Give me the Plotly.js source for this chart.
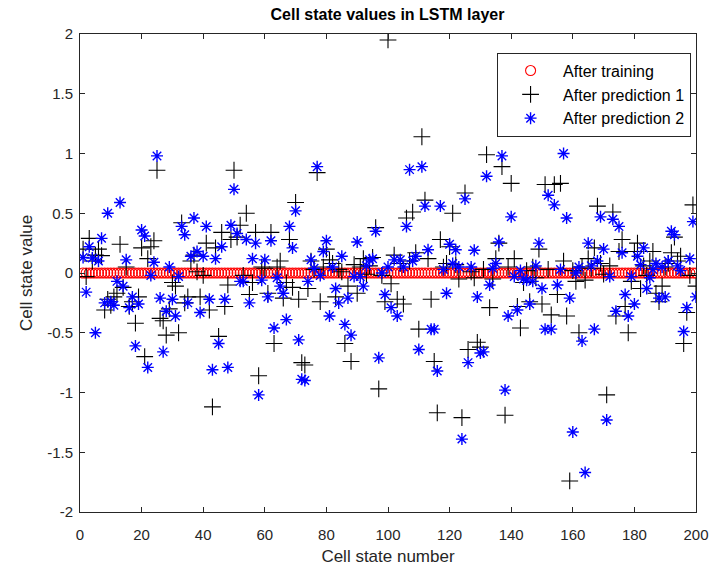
<!DOCTYPE html>
<html>
<head>
<meta charset="utf-8">
<script src="https://cdn.plot.ly/plotly-3.0.1.min.js"></script>
<style>html,body{margin:0;padding:0;background:#fff;}#chart{width:711px;height:579px;}</style>
</head>
<body>
<div id="chart"></div>
<script>
// Cell state index 1..200
const cellIndex = Array.from({length: 200}, (_, i) => i + 1);

// After training: all cell states at zero
const afterTraining = [
0,0,0,0,0,0,0,0,0,0, 0,0,0,0,0,0,0,0,0,0, 0,0,0,0,0,0,0,0,0,0, 0,0,0,0,0,0,0,0,0,0,
0,0,0,0,0,0,0,0,0,0, 0,0,0,0,0,0,0,0,0,0, 0,0,0,0,0,0,0,0,0,0, 0,0,0,0,0,0,0,0,0,0,
0,0,0,0,0,0,0,0,0,0, 0,0,0,0,0,0,0,0,0,0, 0,0,0,0,0,0,0,0,0,0, 0,0,0,0,0,0,0,0,0,0,
0,0,0,0,0,0,0,0,0,0, 0,0,0,0,0,0,0,0,0,0, 0,0,0,0,0,0,0,0,0,0, 0,0,0,0,0,0,0,0,0,0,
0,0,0,0,0,0,0,0,0,0, 0,0,0,0,0,0,0,0,0,0, 0,0,0,0,0,0,0,0,0,0, 0,0,0,0,0,0,0,0,0,0
];

// After prediction 1 (black +)
const afterPrediction1 = [
 0.20,-0.03, 0.29, 0.10, 0.15, 0.20, 0.145,-0.31,-0.22,-0.27,
-0.20,-0.17, 0.24,-0.12, 0.05,-0.28,-0.24,-0.42,-0.20, 0.21,
-0.70, 0.12, 0.22, 0.27, 0.86,-0.38,-0.40,-0.52,-0.30,-0.08,
-0.11,-0.50, 0.42,-0.25,-0.20, 0.10, 0.15, 0.01,-0.20,-0.02,
 0.25,-0.31,-1.12, 0.21,-0.53, 0.34,-0.28,-0.10, 0.28, 0.86,
 0.30, 0.40,-0.02, 0.50,-0.18,-0.08, 0.34,-0.86, 0.05, 0.04,
-0.17, 0.34,-0.59, 0.05, 0.10,-0.21,-0.08, 0.28,-0.12, 0.59,
-0.22,-0.75,-0.77,-0.13, 0.10, 0.03, 0.84,-0.24, 0.05, 0.20,
 0.11, 0.08,-0.20, 0.03, 0.01,-0.59,-0.11,-0.74, 0.07,-0.17,
 0.05, 0.12,-0.01, 0.06, 0.13, 0.38,-0.97,-0.02,-0.24, 1.95,
-0.09, 0.15,-0.22, 0.08,-0.26, 0.46, 0.10, 0.51, 0.17,-0.47,
 1.14, 0.61, 0.12,-0.22,-0.74,-1.17, 0.28, 0.05, 0.08, 0.22,
 0.50, 0.07,-0.05,-1.21, 0.67,-0.64, 0.01,-0.04,-0.58,-0.62,
 0.03, 0.99,-0.29,-0.05, 0.12, 0.25, 0.89,-1.19, 0.05, 0.75,
 0.12,-0.28,-0.46,-0.08, 0.02,-0.24, 0.05,-0.04, 0.20,-0.26,
 0.74, 0.03,-0.35, 0.74,-0.18, 0.75, 0.10,-0.36,-1.74, 0.02,
-0.07,-0.50, 0.05,-0.06, 0.12, 0.04, 0.21, 0.56, 0.08,-0.01,
-1.02, 0.06, 0.51,-0.36, 0.18, 0.28,-0.28,-0.50,-0.07, 0.18,
 0.25,-0.13, 0.06,-0.02, 0.10, 0.18,-0.17,-0.24,-0.11, 0.05,
 0.08, 0.17, 0.30, 0.10, 0.14,-0.59,-0.33,-0.02, 0.57,-0.11
];

// After prediction 2 (blue *)
const afterPrediction2 = [
 0.13,-0.16, 0.22, 0.125,-0.50, 0.10, 0.29,-0.25, 0.50,-0.24,
-0.27,-0.07, 0.59,-0.11, 0.11,-0.29,-0.20,-0.61,-0.26, 0.36,
 0.31,-0.79,-0.02, 0.09, 0.98,-0.21,-0.66,-0.32, 0.05,-0.22,
-0.36,-0.03, 0.39, 0.32,-0.25, 0.14, 0.46, 0.18,-0.33, 0.14,
 0.39,-0.22,-0.81, 0.12,-0.59, 0.22,-0.22,-0.79, 0.40, 0.70,
 0.33,-0.07,-0.07, 0.28,-0.25, 0.12, 0.25,-1.02,-0.06, 0.11,
-0.20, 0.27,-0.46,-0.04,-0.11,-0.17,-0.39, 0.39, 0.21, 0.52,
-0.56,-0.89,-0.90,-0.07, 0.11, 0.04, 0.89,-0.02, 0.18, 0.27,
-0.36, 0.05,-0.13,-0.25, 0.14,-0.43,-0.21,-0.52,-0.03, 0.26,
-0.03,-0.11, 0.06, 0.11, 0.12, 0.35,-0.71, 0.00,-0.18, 0.05,
-0.29, 0.11,-0.36, 0.11, 0.05, 0.39, 0.865, 0.10, 0.14,-0.64,
 0.89, 0.56, 0.195,-0.47,-0.47,-0.82, 0.56, 0.03,-0.17, 0.24,
 0.08, 0.195, 0.05,-1.39, 0.62,-0.75, 0.05, 0.19,-0.20,-0.67,
-0.66, 0.81,-0.10, 0.04, 0.08, 0.26, 0.98,-0.98,-0.36, 0.47,
-0.03,-0.31, 0.02,-0.05,-0.06,-0.26,-0.07, 0.06, 0.25,-0.13,
-0.47, 0.65,-0.47, 0.57,-0.10, 0.03, 1.00, 0.46,-0.21,-1.33,
 0.00, 0.05,-0.57,-1.67, 0.25, 0.06,-0.47, 0.10, 0.47, 0.20,
-1.23,-0.03, 0.45,-0.32, 0.39, 0.17,-0.18,-0.36,-0.03,-0.26,
 0.14, 0.07, 0.21,-0.13,-0.04, 0.03, 0.08,-0.21, 0.05,-0.20,
 0.10, 0.35, 0.32, 0.06, 0.02,-0.49,-0.29, 0.12, 0.43,-0.20
];

const seriesNames = ["After training", "After prediction 1", "After prediction 2"];
const xTickVals = [0, 20, 40, 60, 80, 100, 120, 140, 160, 180, 200];
const yTickVals = [-2, -1.5, -1, -0.5, 0, 0.5, 1, 1.5, 2];
const yTickText = ["-2", "-1.5", "-1", "-0.5", "0", "0.5", "1", "1.5", "2"];

const FONT = "Liberation Sans, Arial, Helvetica, sans-serif";

const traces = [
  {x: cellIndex, y: afterTraining, name: seriesNames[0], type: "scatter", mode: "markers",
   marker: {symbol: "circle-open", size: 10, color: "#ff0000", line: {width: 1.1, color: "#ff0000"}}},
  {x: cellIndex, y: afterPrediction1, name: seriesNames[1], type: "scatter", mode: "markers",
   marker: {symbol: "cross-thin-open", size: 12, color: "#000000", line: {width: 1.1, color: "#000000"}}},
  {x: cellIndex, y: afterPrediction2, name: seriesNames[2], type: "scatter", mode: "markers",
   marker: {symbol: "asterisk-open", size: 10, color: "#0000ff", line: {width: 1.4, color: "#0000ff"}}}
];

const axisCommon = {
  showline: true, linecolor: "#262626", linewidth: 1, mirror: "ticks",
  ticks: "inside", ticklen: 5, tickcolor: "#262626", tickwidth: 1,
  showgrid: false, zeroline: false,
  tickfont: {family: FONT, size: 15, color: "#262626"}
};

const layout = {
  width: 711, height: 579,
  margin: {l: 80, r: 15, t: 34, b: 67},
  paper_bgcolor: "#ffffff", plot_bgcolor: "#ffffff",
  title: {text: "<b>Cell state values in LSTM layer</b>", x: 0.545, xanchor: "center", y: 0.975, yanchor: "middle",
          font: {family: FONT, size: 16, color: "#000000"}},
  xaxis: Object.assign({}, axisCommon, {
    range: [0, 200], tickvals: xTickVals, ticktext: xTickVals.map(String),
    ticklabelstandoff: 9,
    title: {text: "Cell state number", font: {family: FONT, size: 17, color: "#262626"}, standoff: 8}
  }),
  yaxis: Object.assign({}, axisCommon, {
    range: [-2, 2], tickvals: yTickVals, ticktext: yTickText,
    ticklabelstandoff: 3,
    title: {text: "Cell state value", font: {family: FONT, size: 17, color: "#262626"}, standoff: 10}
  }),
  showlegend: true,
  legend: {x: 0.992, y: 0.961, xanchor: "right", yanchor: "top",
           bgcolor: "#ffffff", bordercolor: "#262626", borderwidth: 1,
           font: {family: FONT, size: 16, color: "#000000"}, tracegroupgap: 0, itemwidth: 55}
};

Plotly.newPlot("chart", traces, layout, {displayModeBar: false, staticPlot: true});
</script>
</body>
</html>
